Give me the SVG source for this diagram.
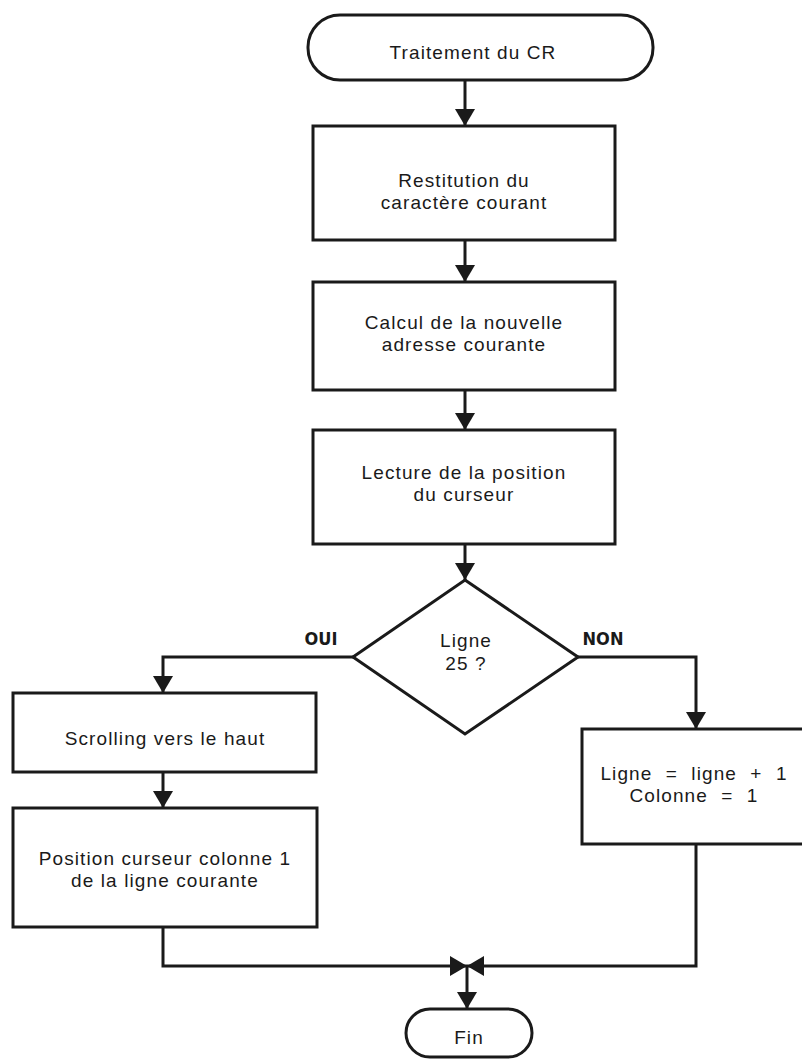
<svg xmlns="http://www.w3.org/2000/svg" width="802" height="1061" viewBox="0 0 802 1061">
<style>
.s{fill:#fff;stroke:#1a1a1a;stroke-width:3}
.c{fill:none;stroke:#1a1a1a;stroke-width:3}
.t{font-family:"Liberation Sans",Arial,sans-serif;font-size:19px;fill:#1a1a1a;text-anchor:middle;letter-spacing:1.1px}
.w{word-spacing:7px}
.b{font-family:"DejaVu Sans Condensed","DejaVu Sans",sans-serif;font-stretch:condensed;font-weight:bold;font-size:18px;fill:#1a1a1a;text-anchor:middle}
</style>
<defs>
<marker id="ah" markerUnits="userSpaceOnUse" markerWidth="20" markerHeight="20" refX="17" refY="10" orient="auto">
<path d="M0,0 L17,10 L0,20 Z" fill="#1a1a1a"/>
</marker>
</defs>
<rect width="802" height="1061" fill="#fff"/>
<g id="connectors">
<path class="c" d="M465,80 V126" marker-end="url(#ah)"/>
<path class="c" d="M465,240 V282" marker-end="url(#ah)"/>
<path class="c" d="M465,390 V430" marker-end="url(#ah)"/>
<path class="c" d="M465,544 V580" marker-end="url(#ah)"/>
<path class="c" d="M353,657 H163 V693" marker-end="url(#ah)"/>
<path class="c" d="M163,772 V808" marker-end="url(#ah)"/>
<path class="c" d="M578,657 H696 V729" marker-end="url(#ah)"/>
<path class="c" d="M163,927 V966 H467" marker-end="url(#ah)"/>
<path class="c" d="M696,844 V966 H467" marker-end="url(#ah)"/>
<path class="c" d="M467,966 V1009" marker-end="url(#ah)"/>
</g>
<g id="start">
<rect class="s" x="308" y="15" width="345" height="65" rx="32"/>
<text class="t" x="473" y="59">Traitement du CR</text>
</g>
<g id="restitution">
<rect class="s" x="313" y="126" width="302" height="114"/>
<text class="t" x="464" y="187">Restitution du</text>
<text class="t" x="464" y="209">caractère courant</text>
</g>
<g id="calcul">
<rect class="s" x="313" y="282" width="302" height="108"/>
<text class="t" x="464" y="329">Calcul de la nouvelle</text>
<text class="t" x="464" y="351">adresse courante</text>
</g>
<g id="lecture">
<rect class="s" x="313" y="430" width="302" height="114"/>
<text class="t" x="464" y="479">Lecture de la position</text>
<text class="t" x="464" y="501">du curseur</text>
</g>
<g id="decision">
<polygon class="s" points="465,580 578,657 465,734 353,657"/>
<text class="t" x="466" y="647">Ligne</text>
<text class="t" x="466" y="670">25 ?</text>
<text class="b" x="321" y="645">OUI</text>
<text class="b" x="603" y="645">NON</text>
</g>
<g id="scrolling">
<rect class="s" x="13" y="693" width="303" height="79"/>
<text class="t" x="165" y="745">Scrolling vers le haut</text>
</g>
<g id="position">
<rect class="s" x="13" y="808" width="304" height="119"/>
<text class="t" x="165" y="865">Position curseur colonne 1</text>
<text class="t" x="165" y="887">de la ligne courante</text>
</g>
<g id="increment">
<rect class="s" x="582" y="729" width="230" height="115"/>
<text class="t w" x="694" y="780">Ligne = ligne + 1</text>
<text class="t w" x="694" y="802">Colonne = 1</text>
</g>
<g id="fin">
<rect class="s" x="406" y="1009" width="126" height="48" rx="24"/>
<text class="t" x="469" y="1044">Fin</text>
</g>
</svg>
